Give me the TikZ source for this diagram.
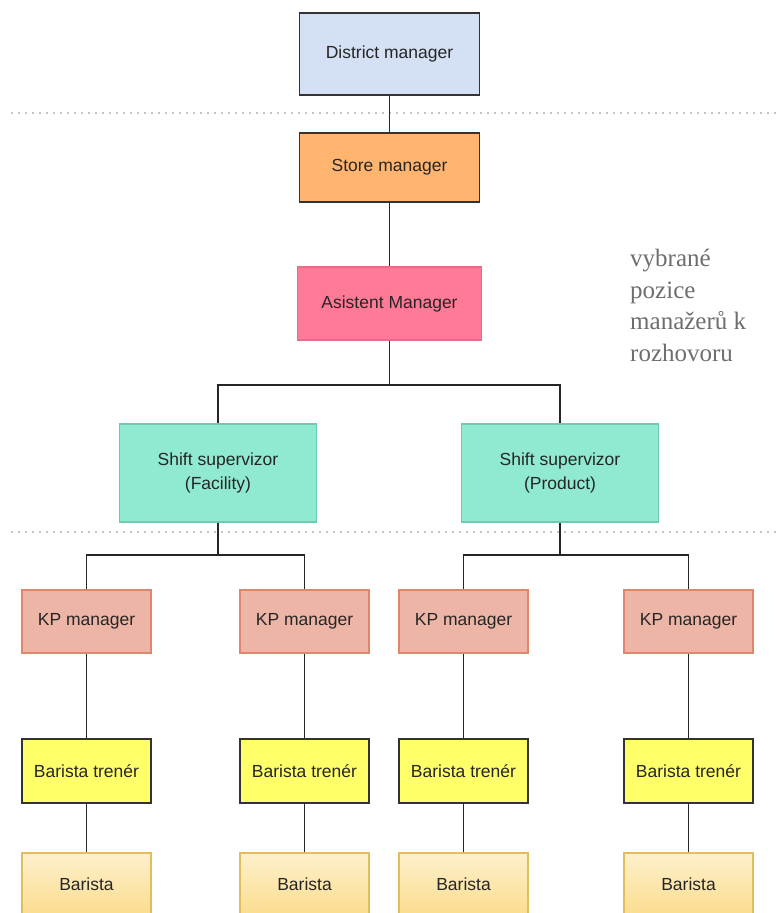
\documentclass[tikz,border=0pt]{standalone}
\usepackage{fontspec}
\setmainfont{Liberation Sans}
\newfontfamily\serifnote{Liberation Serif}
\usetikzlibrary{calc}
\definecolor{dmfill}{HTML}{D4E1F5}
\definecolor{smfill}{HTML}{FFB570}
\definecolor{amfill}{HTML}{FF7A96}
\definecolor{amline}{HTML}{E0708A}
\definecolor{ssfill}{HTML}{90E9D1}
\definecolor{ssline}{HTML}{6CCBB0}
\definecolor{kpfill}{HTML}{EDB5A6}
\definecolor{kpline}{HTML}{E0866C}
\definecolor{btfill}{HTML}{FFFF6A}
\definecolor{bline}{HTML}{E3BD5C}
\definecolor{btop}{HTML}{FDF0CC}
\definecolor{bbot}{HTML}{FCDD8E}
\definecolor{txt}{HTML}{262626}
\definecolor{note}{HTML}{6E6E6E}
\definecolor{dotc}{HTML}{B0B0B0}
\tikzset{
  box/.style={draw=black!80, line width=1.3pt, text=txt, font=\fontsize{17.5}{24}\selectfont, align=center, inner sep=0pt},
  dm/.style={box, fill=dmfill, minimum width=180pt, minimum height=82pt},
  sm/.style={box, fill=smfill, minimum width=180pt, minimum height=69pt},
  am/.style={box, fill=amfill, draw=amline, minimum width=184pt, minimum height=73pt},
  ss/.style={box, fill=ssfill, draw=ssline, minimum width=197pt, minimum height=98pt},
  kp/.style={box, fill=kpfill, draw=kpline, minimum width=129pt, minimum height=63pt},
  bt/.style={box, fill=btfill, minimum width=129pt, minimum height=64pt},
  ba/.style={box, top color=btop, bottom color=bbot, draw=bline, minimum width=129pt, minimum height=62pt},
  link/.style={draw=black!85, line width=1.7pt},
  sep/.style={draw=dotc, line width=2.2pt, dash pattern=on 0pt off 7pt, line cap=round}
}
\begin{document}
\begin{tikzpicture}[x=1pt,y=-1pt]
\useasboundingbox (0,0) rectangle (779,913);
\clip (0,0) rectangle (779,913);
% separators
\draw[sep] (12,113) -- (779,113);
\draw[sep] (12,532) -- (779,532);
% nodes
\node[dm] (dm) at (389.5,54) {District manager};
\node[sm] (sm) at (389.5,167.5) {Store manager};
\node[am] (am) at (389.5,303.5) {Asistent Manager};
\node[ss] (ssf) at (218,473) {Shift supervizor\\(Facility)};
\node[ss] (ssp) at (560,473) {Shift supervizor\\(Product)};
\foreach \n/\x in {1/86.5,2/304.5,3/463.5,4/688.5}{
  \node[kp] (kp\n) at (\x,621.5) {KP manager};
  \node[bt] (bt\n) at (\x,771) {Barista tren\'er};
  \node[ba] (ba\n) at (\x,884) {Barista};
}
% note
\node[anchor=north west, align=left, text=note, inner sep=0pt,
      font=\serifnote\fontsize{25}{31.5}\selectfont] (note) at (630,249)
  {vybrané\\pozice\\manažerů k\\rozhovoru};
% junctions
\coordinate (j1) at (389.5,385);
\coordinate (j2) at (218,555);
\coordinate (j3) at (560,555);
% connectors
\draw[link] (dm.south) -- (sm.north);
\draw[link] (sm.south) -- (am.north);
\draw[link] (am.south) -- (j1);
\draw[link] (j1) -| (ssf.north);
\draw[link] (j1) -| (ssp.north);
\draw[link] (ssf.south) -- (j2);
\draw[link] (j2) -| (kp1.north);
\draw[link] (j2) -| (kp2.north);
\draw[link] (ssp.south) -- (j3);
\draw[link] (j3) -| (kp3.north);
\draw[link] (j3) -| (kp4.north);
\foreach \n in {1,2,3,4}{
  \draw[link] (kp\n.south) -- (bt\n.north);
  \draw[link] (bt\n.south) -- (ba\n.north);
}
\end{tikzpicture}
\end{document}
